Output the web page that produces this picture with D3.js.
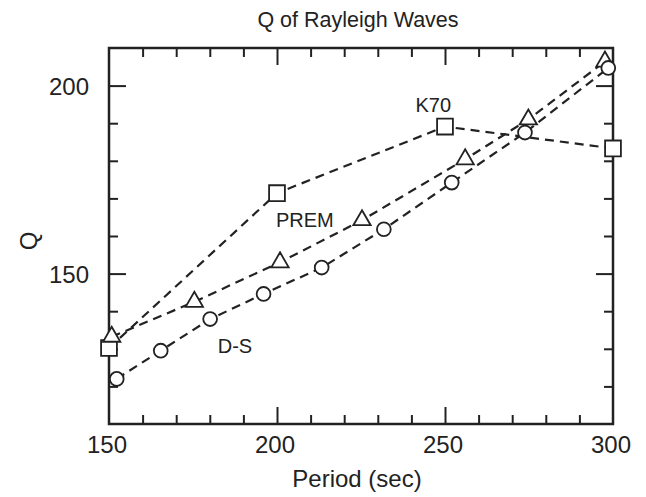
<!DOCTYPE html>
<html>
<head>
<meta charset="utf-8">
<script src="https://cdn.jsdelivr.net/npm/d3@7"></script>
<style>
  body { margin: 0; background: #fff; }
  text { font-family: "Liberation Sans", Arial, Helvetica, sans-serif; fill: #222; }
</style>
</head>
<body>
<div class="chart"></div>
<script>
// Data
const k70Period = [150, 200, 250, 300];
const k70Q = [130.2, 171.4, 189.1, 183.3];
const premPeriod = [150.8, 175.4, 200.9, 225.3, 256, 274.8, 297.6];
const premQ = [133.2, 142.5, 153.0, 164.2, 180.4, 191.0, 206.4];
const dsPeriod = [152.3, 165.4, 180.1, 196, 213.3, 231.8, 252, 273.8, 298.6];
const dsQ = [122.0, 129.5, 137.9, 144.6, 151.6, 161.8, 174.2, 187.5, 204.7];
const xTicks = [150, 200, 250, 300];
const yTicks = [150, 200];

const width = 646, height = 497;
const margin = { top: 48, right: 33, bottom: 73, left: 109 };
const innerW = width - margin.left - margin.right;
const innerH = height - margin.top - margin.bottom;

const svg = d3.select(".chart")
    .append("svg")
    .attr("width", width)
    .attr("height", height);
const g = svg.append("g")
    .attr("transform", "translate(" + margin.left + "," + margin.top + ")");

const x = d3.scaleLinear().domain([150, 300]).range([0, innerW]);
const y = d3.scaleLinear().domain([110, 210]).range([innerH, 0]);

// minor / major ticks on all four sides, pointing inward
const xMinor = d3.range(160, 300, 10).filter(d => d % 50 !== 0);
const yMinor = d3.range(120, 210, 10).filter(d => d % 50 !== 0);
const tickColor = "#222";

function ticks(axisFn, vals, size) {
    return axisFn.tickValues(vals).tickSize(-size).tickFormat("");
}
g.append("g").attr("transform", "translate(0," + innerH + ")").call(ticks(d3.axisBottom(x), xMinor, 9));
g.append("g").attr("transform", "translate(0," + innerH + ")").call(ticks(d3.axisBottom(x), [200, 250], 17));
g.append("g").call(ticks(d3.axisTop(x), xMinor, 9));
g.append("g").call(ticks(d3.axisTop(x), [200, 250], 17));
g.append("g").call(ticks(d3.axisLeft(y), yMinor, 9));
g.append("g").call(ticks(d3.axisLeft(y), yTicks, 17));
g.append("g").attr("transform", "translate(" + innerW + ",0)").call(ticks(d3.axisRight(y), yMinor, 9));
g.append("g").attr("transform", "translate(" + innerW + ",0)").call(ticks(d3.axisRight(y), yTicks, 17));
g.selectAll(".domain").remove();
g.selectAll(".tick line").attr("stroke", tickColor).attr("stroke-width", 2);

// frame
g.append("rect")
    .attr("width", innerW)
    .attr("height", innerH)
    .attr("fill", "none")
    .attr("stroke", tickColor)
    .attr("stroke-width", 2.5);

// tick labels
g.selectAll(".xlab")
    .data(xTicks)
    .join("text")
    .attr("x", d => x(d) - 2)
    .attr("y", innerH + 29)
    .attr("text-anchor", "middle")
    .style("font-size", "24px")
    .text(d => d);
g.selectAll(".ylab")
    .data(yTicks)
    .join("text")
    .attr("x", -20)
    .attr("y", d => y(d) + 9)
    .attr("text-anchor", "end")
    .style("font-size", "24px")
    .text(d => d);

// titles
svg.append("text")
    .attr("x", 358)
    .attr("y", 27)
    .attr("text-anchor", "middle")
    .style("font-size", "21.5px")
    .text("Q of Rayleigh Waves");
svg.append("text")
    .attr("x", 357)
    .attr("y", 487)
    .attr("text-anchor", "middle")
    .style("font-size", "24px")
    .text("Period (sec)");
svg.append("text")
    .attr("transform", "rotate(-90)")
    .attr("x", -241)
    .attr("y", 37)
    .attr("text-anchor", "middle")
    .style("font-size", "24px")
    .text("Q");

// series
const series = [
    { name: "K70", xs: k70Period, ys: k70Q, shape: d3.symbolSquare, size: 250 },
    { name: "PREM", xs: premPeriod, ys: premQ, shape: d3.symbolTriangle, size: 130 },
    { name: "D-S", xs: dsPeriod, ys: dsQ, shape: d3.symbolCircle, size: 150 }
];
const line = d3.line().x(d => x(d[0])).y(d => y(d[1]));

series.forEach(s => {
    const pts = s.xs.map((v, i) => [v, s.ys[i]]);
    g.append("path")
        .datum(pts)
        .attr("d", line)
        .attr("fill", "none")
        .attr("stroke", "#222")
        .attr("stroke-width", 2.2)
        .attr("stroke-dasharray", "9,6");
    g.selectAll(".m-" + s.name)
        .data(pts)
        .join("path")
        .attr("transform", d => "translate(" + x(d[0]) + "," + y(d[1]) + ")")
        .attr("d", d3.symbol().type(s.shape).size(s.size))
        .attr("fill", "#fff")
        .attr("stroke", "#222")
        .attr("stroke-width", 1.8);
});

// series labels
const labels = [
    { text: "K70", px: 246.5, q: 193 },
    { text: "PREM", px: 208.3, q: 162.4 },
    { text: "D-S", px: 187.5, q: 128.9 }
];
g.selectAll(".slab")
    .data(labels)
    .join("text")
    .attr("x", d => x(d.px))
    .attr("y", d => y(d.q))
    .attr("text-anchor", "middle")
    .style("font-size", "20px")
    .text(d => d.text);
</script>
</body>
</html>
